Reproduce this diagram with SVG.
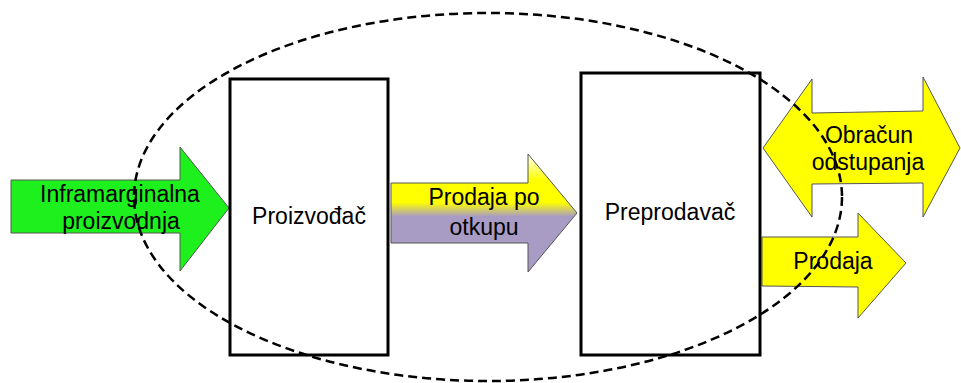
<svg xmlns="http://www.w3.org/2000/svg" width="961" height="383" viewBox="0 0 961 383">
  <defs>
    <style>
      .arrow { stroke: #555555; stroke-width: 1; stroke-linejoin: miter; }
      .box { fill: #ffffff; stroke: #000000; stroke-width: 3; }
      .lbl { font-family: "Liberation Sans", Arial, sans-serif; font-size: 23px; fill: #000000; text-anchor: middle; }
      .boundary { fill: none; stroke: #000000; stroke-width: 2.5; stroke-dasharray: 9 5; }
    </style>
    <linearGradient id="gradSale" gradientUnits="userSpaceOnUse" x1="0" y1="154" x2="0" y2="272">
      <stop offset="0" stop-color="#fffff2"/>
      <stop offset="0.22" stop-color="#ffff00"/>
      <stop offset="0.41" stop-color="#ffff00"/>
      <stop offset="0.53" stop-color="#a89bc4"/>
      <stop offset="1" stop-color="#a89bc4"/>
    </linearGradient>
  </defs>

  <g id="connectors">
    <g id="arrow-inframarginalna">
      <polygon class="arrow" fill="#1ef01e" points="11,180 180,180 180,147 229,208 180,271 180,233 11,233"/>
      <text class="lbl" x="120" y="202">Inframarginalna</text>
      <text class="lbl" x="121" y="229">proizvodnja</text>
    </g>
    <g id="arrow-prodaja-po-otkupu">
      <polygon class="arrow" fill="url(#gradSale)" points="391,183 528,183 528,154 577,213 528,272 528,243 391,243"/>
      <text class="lbl" x="484" y="205">Prodaja po</text>
      <text class="lbl" x="484" y="235">otkupu</text>
    </g>
    <g id="arrow-obracun">
      <polygon class="arrow" fill="#ffff00" points="763,148 812,79 812,113 923,111 923,77 960,148 923,217 923,183 812,184 812,217"/>
      <text class="lbl" x="869" y="143">Obračun</text>
      <text class="lbl" x="868" y="170">odstupanja</text>
    </g>
    <g id="arrow-prodaja">
      <polygon class="arrow" fill="#ffff00" points="762,237 858,237 858,213 906,263 858,318 858,287 762,286"/>
      <text class="lbl" x="833" y="269">Prodaja</text>
    </g>
  </g>

  <g id="node-proizvodjac">
    <rect class="box" x="230" y="79" width="158" height="276"/>
    <text class="lbl" x="309" y="224">Proizvođač</text>
  </g>

  <g id="node-preprodavac">
    <rect class="box" x="581" y="73" width="179" height="282"/>
    <text class="lbl" x="670" y="220">Preprodavač</text>
  </g>

  <g id="boundary">
    <ellipse class="boundary" cx="488" cy="197" rx="354" ry="184"/>
  </g>
</svg>
